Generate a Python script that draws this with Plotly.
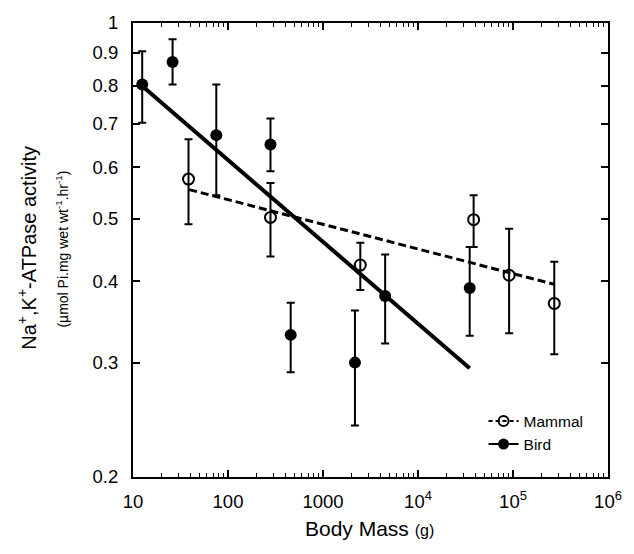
import plotly.graph_objects as go

# ---- data ----
mammal_mass = [38.4, 280, 2470, 38500, 91000, 272000]
mammal_act = [0.575, 0.502, 0.424, 0.498, 0.409, 0.370]
mammal_err_hi = [0.662, 0.567, 0.459, 0.543, 0.482, 0.429]
mammal_err_lo = [0.490, 0.437, 0.388, 0.452, 0.333, 0.309]

bird_mass = [12.5, 26.1, 75.3, 280, 457, 2170, 4510, 35000]
bird_act = [0.804, 0.871, 0.672, 0.650, 0.331, 0.300, 0.380, 0.391]
bird_err_hi = [0.905, 0.944, 0.804, 0.713, 0.371, 0.361, 0.440, 0.452]
bird_err_lo = [0.702, 0.804, 0.543, 0.591, 0.290, 0.240, 0.321, 0.330]

mammal_fit_x = [39, 272000]
mammal_fit_y = [0.554, 0.396]
bird_fit_x = [12.5, 35000]
bird_fit_y = [0.80, 0.294]

y_ticks = [0.2, 0.3, 0.4, 0.5, 0.6, 0.7, 0.8, 0.9, 1]
y_ticktext = ["0.2", "0.3", "0.4", "0.5", "0.6", "0.7", "0.8", "0.9", "1"]
x_ticks = [10, 100, 1000, 1e4, 1e5, 1e6]
x_ticktext = ["10", "100", "1000", "10<sup>4</sup>", "10<sup>5</sup>", "10<sup>6</sup>"]

FONT = "Liberation Sans, Arial, Helvetica, sans-serif"

def errs(vals, hi, lo):
    return ([h - v for v, h in zip(vals, hi)], [v - l for v, l in zip(vals, lo)])

fig = go.Figure()

# fit lines
fig.add_trace(go.Scatter(x=mammal_fit_x, y=mammal_fit_y, mode="lines",
                         line=dict(color="black", width=3, dash="8px,4px"),
                         showlegend=False, hoverinfo="skip"))
fig.add_trace(go.Scatter(x=bird_fit_x, y=bird_fit_y, mode="lines",
                         line=dict(color="black", width=4),
                         showlegend=False, hoverinfo="skip"))

mp, mm = errs(mammal_act, mammal_err_hi, mammal_err_lo)
fig.add_trace(go.Scatter(x=mammal_mass, y=mammal_act, mode="markers",
                         marker=dict(symbol="circle-open", size=11, color="black",
                                     line=dict(width=2, color="black")),
                         error_y=dict(type="data", symmetric=False, array=mp, arrayminus=mm,
                                      color="black", thickness=2, width=4),
                         showlegend=False))
bp, bm = errs(bird_act, bird_err_hi, bird_err_lo)
fig.add_trace(go.Scatter(x=bird_mass, y=bird_act, mode="markers",
                         marker=dict(symbol="circle", size=12, color="black"),
                         error_y=dict(type="data", symmetric=False, array=bp, arrayminus=bm,
                                      color="black", thickness=2, width=4),
                         showlegend=False))

# legend entries
fig.add_trace(go.Scatter(x=[None], y=[None], mode="lines+markers", name="Mammal",
                         line=dict(color="black", width=2, dash="4px,3px"),
                         marker=dict(symbol="circle-open", size=10, color="black",
                                     line=dict(width=2, color="black"))))
fig.add_trace(go.Scatter(x=[None], y=[None], mode="lines+markers", name="Bird",
                         line=dict(color="black", width=2),
                         marker=dict(symbol="circle", size=11, color="black")))

minor_x = [m * 10 ** e for e in range(1, 6) for m in range(2, 10)]

fig.update_xaxes(type="log", range=[1, 6], tickvals=x_ticks, ticktext=x_ticktext,
                 ticks="inside", ticklen=7, tickwidth=1.5, tickcolor="black",
                 showline=True, linecolor="black", linewidth=2, mirror="ticks",
                 showgrid=False, zeroline=False, ticklabelstandoff=7,
                 tickfont=dict(family=FONT, size=18.5, color="black"),
                 minor=dict(tickvals=minor_x, ticks="inside", ticklen=4,
                            tickcolor="black", tickwidth=1.2, showgrid=False))
fig.update_yaxes(type="log", range=[-0.69897, 0], tickvals=y_ticks, ticktext=y_ticktext,
                 ticks="inside", ticklen=7, tickwidth=1.5, tickcolor="black",
                 showline=True, linecolor="black", linewidth=2, mirror="ticks",
                 showgrid=False, zeroline=False, ticklabelstandoff=9,
                 tickfont=dict(family=FONT, size=18.5, color="black"))

fig.update_layout(
    width=634, height=554,
    margin=dict(l=133, r=24, t=23, b=77),
    paper_bgcolor="white", plot_bgcolor="white",
    font=dict(family=FONT, color="black"),
    legend=dict(x=0.738, y=0.16, xanchor="left", yanchor="top",
                bgcolor="rgba(0,0,0,0)", font=dict(family=FONT, size=15.5, color="black"),
                tracegroupgap=0, itemwidth=30),
    annotations=[
        dict(text="Na<sup>+</sup>,K<sup>+</sup>-ATPase activity", textangle=-90,
             xref="paper", yref="paper", x=(26 - 133) / 477, y=(476.7 - 247) / 454,
             xanchor="center", yanchor="middle", showarrow=False,
             font=dict(family=FONT, size=20, color="black")),
        dict(text="(µmol Pi.mg wet wt<sup>-1</sup>.hr<sup>-1</sup>)", textangle=-90,
             xref="paper", yref="paper", x=(62 - 133) / 477, y=(476.7 - 249) / 454,
             xanchor="center", yanchor="middle", showarrow=False,
             font=dict(family=FONT, size=14, color="black")),
        dict(text="Body Mass <span style='font-size:16px'>(g)</span>",
             xref="paper", yref="paper", x=(370 - 133) / 477, y=-(528 - 476.7) / 454,
             xanchor="center", yanchor="middle", showarrow=False,
             font=dict(family=FONT, size=21, color="black")),
    ],
)

fig.write_html("out.html")
